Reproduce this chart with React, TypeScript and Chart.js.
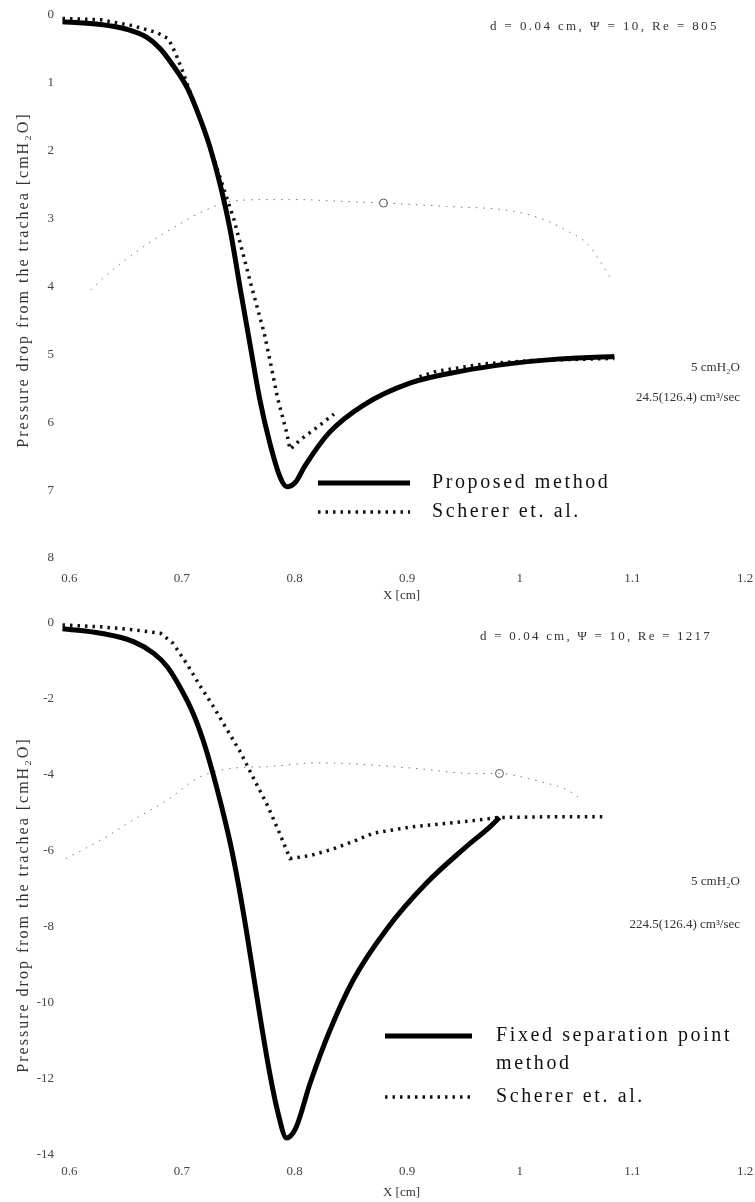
import React, { useEffect, useRef } from "react";
import { Chart, registerables } from "chart.js";

Chart.register(...registerables);

const SERIF = "'Liberation Serif', 'Times New Roman', serif";

// Shared x axis ticks
const xTickValues = [0.6, 0.7, 0.8, 0.9, 1.0, 1.1, 1.2];
const xTickLabels = ["0.6", "0.7", "0.8", "0.9", "1", "1.1", "1.2"];

// ---------- Top panel (Re = 805) ----------
const topYTicks = [0, 1, 2, 3, 4, 5, 6, 7, 8];

const topProposedX = [0.594, 0.628, 0.651, 0.669, 0.681, 0.692, 0.705, 0.716, 0.725, 0.734, 0.743, 0.752, 0.761, 0.769, 0.778, 0.787, 0.793, 0.801, 0.809, 0.831, 0.861, 0.903, 0.947, 0.99, 1.033, 1.084];
const topProposedY = [0.1, 0.14, 0.21, 0.33, 0.5, 0.74, 1.08, 1.52, 1.95, 2.5, 3.18, 4.05, 4.9, 5.65, 6.3, 6.8, 6.95, 6.88, 6.65, 6.15, 5.75, 5.42, 5.25, 5.14, 5.07, 5.03];

const topSchererX = [0.594, 0.628, 0.657, 0.678, 0.688, 0.694, 0.7, 0.707, 0.716, 0.728, 0.737, 0.746, 0.754, 0.761, 0.773, 0.779, 0.785, 0.793, 0.796, 0.805, 0.818, 0.835, 0.87, 0.911, 0.926, 0.968, 1.011, 1.084];
const topSchererY = [0.05, 0.07, 0.16, 0.26, 0.35, 0.55, 0.8, 1.12, 1.53, 2.1, 2.55, 3.0, 3.5, 3.95, 4.68, 5.15, 5.65, 6.15, 6.4, 6.26, 6.1, 5.88, null, 5.33, 5.25, 5.14, 5.09, 5.06];

const topThinX = [0.619, 0.636, 0.657, 0.678, 0.698, 0.719, 0.746, 0.776, 0.805, 0.834, 0.879, 0.935, 0.994, 1.024, 1.042, 1.06, 1.071, 1.08];
const topThinY = [4.05, 3.79, 3.52, 3.28, 3.08, 2.89, 2.74, 2.72, 2.72, 2.74, 2.77, 2.82, 2.89, 3.03, 3.18, 3.37, 3.62, 3.86];

const topMarkerX = [0.879];
const topMarkerY = [2.77];

// ---------- Bottom panel (Re = 1217) ----------
const bottomYTicks = [0, -2, -4, -6, -8, -10, -12, -14];

const bottomFixedX = [0.594, 0.628, 0.657, 0.675, 0.687, 0.698, 0.71, 0.719, 0.727, 0.735, 0.743, 0.75, 0.757, 0.764, 0.771, 0.778, 0.785, 0.793, 0.801, 0.814, 0.831, 0.852, 0.882, 0.917, 0.95, 0.974, 0.982];
const bottomFixedY = [-0.15, -0.27, -0.49, -0.8, -1.15, -1.67, -2.38, -3.1, -3.9, -4.8, -5.8, -6.85, -8.05, -9.35, -10.65, -11.85, -12.85, -13.55, -13.3, -12.1, -10.75, -9.4, -8.05, -6.85, -5.95, -5.35, -5.12];

const bottomSchererX = [0.594, 0.628, 0.657, 0.681, 0.692, 0.705, 0.716, 0.728, 0.74, 0.752, 0.763, 0.776, 0.787, 0.796, 0.814, 0.834, 0.852, 0.87, 0.905, 0.935, 0.965, 0.98, 1.024, 1.074];
const bottomSchererY = [-0.05, -0.1, -0.18, -0.27, -0.53, -1.1, -1.65, -2.2, -2.8, -3.4, -4.05, -4.8, -5.55, -6.2, -6.12, -5.95, -5.75, -5.53, -5.36, -5.27, -5.18, -5.12, -5.1, -5.1];

const bottomThinX = [0.597, 0.628, 0.657, 0.687, 0.716, 0.746, 0.776, 0.82, 0.905, 0.958, 0.982, 1.0, 1.018, 1.042, 1.053];
const bottomThinY = [-6.2, -5.71, -5.18, -4.66, -4.05, -3.82, -3.78, -3.68, -3.82, -3.96, -3.96, -4.04, -4.17, -4.39, -4.61];

const bottomMarkerX = [0.982];
const bottomMarkerY = [-3.96];

// ---------- helpers ----------
function pts(xs: number[], ys: (number | null)[]) {
  return xs.map((x, i) => ({ x, y: ys[i] }));
}

type TextItem = {
  text: string;
  x: number;
  y: number;
  size: number;
  align?: CanvasTextAlign;
  color?: string;
  spacing?: number;
};
type LegendItem = {
  dataset: number;
  x1: number;
  x2: number;
  y: number;
  lines: string[];
  tx: number;
  lineGap: number;
};

function overlayPlugin(texts: TextItem[], legend: LegendItem[], yTitle: TextItem) {
  return {
    id: "overlay",
    afterDraw(chart: any) {
      const ctx: CanvasRenderingContext2D = chart.ctx;
      ctx.save();
      ctx.textBaseline = "middle";
      for (const t of texts) {
        ctx.font = `${t.size}px ${SERIF}`;
        ctx.fillStyle = t.color ?? "#333";
        ctx.textAlign = t.align ?? "left";
        (ctx as any).letterSpacing = `${t.spacing ?? 0}px`;
        ctx.fillText(t.text, t.x, t.y);
      }
      for (const l of legend) {
        const ds = chart.data.datasets[l.dataset];
        ctx.beginPath();
        ctx.setLineDash(ds.borderDash ?? []);
        ctx.lineWidth = ds.borderWidth;
        ctx.strokeStyle = ds.borderColor;
        ctx.lineCap = "butt";
        ctx.moveTo(l.x1, l.y);
        ctx.lineTo(l.x2, l.y);
        ctx.stroke();
        ctx.setLineDash([]);
        ctx.font = `20px ${SERIF}`;
        ctx.fillStyle = "#111";
        ctx.textAlign = "left";
        (ctx as any).letterSpacing = "2.6px";
        l.lines.forEach((s, i) => ctx.fillText(s, l.tx, l.y + i * l.lineGap));
      }
      ctx.translate(yTitle.x, yTitle.y);
      ctx.rotate(-Math.PI / 2);
      ctx.font = `${yTitle.size}px ${SERIF}`;
      ctx.fillStyle = yTitle.color ?? "#333";
      ctx.textAlign = "center";
      (ctx as any).letterSpacing = `${yTitle.spacing ?? 0}px`;
      ctx.fillText(yTitle.text, 0, 0);
      ctx.restore();
    },
  };
}

type PanelSpec = {
  height: number;
  top: number;
  yMin: number;
  yMax: number;
  reverse: boolean;
  yTicks: number[];
  xPad: number;
  datasets: any[];
  texts: TextItem[];
  legend: LegendItem[];
  yTitle: TextItem;
};

function buildConfig(p: PanelSpec): any {
  const tickFont = { family: SERIF, size: 13 };
  return {
    type: "line",
    data: { datasets: p.datasets },
    options: {
      responsive: false,
      animation: false,
      devicePixelRatio: 1,
      events: [],
      layout: { padding: { left: 0, right: 10, top: p.top, bottom: 0 } },
      plugins: { legend: { display: false }, tooltip: { enabled: false } },
      scales: {
        x: {
          type: "linear",
          min: 0.59,
          max: 1.2,
          afterBuildTicks: (s: any) => {
            s.ticks = xTickValues.map((v) => ({ value: v }));
          },
          afterFit: (s: any) => {
            s.height = 47;
            s.paddingLeft = 0;
            s.paddingRight = 0;
          },
          ticks: {
            autoSkip: false,
            maxRotation: 0,
            padding: p.xPad,
            color: "#444",
            font: tickFont,
            callback: (v: number) => {
              const i = xTickValues.findIndex((t) => Math.abs(t - v) < 1e-9);
              return i >= 0 ? xTickLabels[i] : "";
            },
          },
          grid: { display: false, drawTicks: false },
          border: { display: false },
          title: {
            display: true,
            text: "X [cm]",
            color: "#333",
            font: { family: SERIF, size: 13 },
            padding: { top: 0, bottom: 2 },
          },
        },
        y: {
          type: "linear",
          min: p.yMin,
          max: p.yMax,
          reverse: p.reverse,
          afterBuildTicks: (s: any) => {
            s.ticks = p.yTicks.map((v) => ({ value: v }));
          },
          afterFit: (s: any) => {
            s.width = 58;
            s.paddingTop = 0;
            s.paddingBottom = 0;
          },
          ticks: { padding: 4, color: "#444", font: tickFont },
          grid: { display: false, drawTicks: false },
          border: { display: false },
        },
      },
    },
    plugins: [overlayPlugin(p.texts, p.legend, p.yTitle)],
  };
}

function solid(data: any[], label: string) {
  return {
    label,
    data,
    borderColor: "#000",
    borderWidth: 5,
    pointRadius: 0,
    cubicInterpolationMode: "monotone",
    fill: false,
    clip: false,
  };
}
function scherer(data: any[]) {
  return {
    label: "Scherer et. al.",
    data,
    borderColor: "#111",
    borderWidth: 3.5,
    borderDash: [2.5, 5],
    pointRadius: 0,
    tension: 0,
    spanGaps: false,
    fill: false,
    clip: false,
  };
}
function thin(data: any[]) {
  return {
    label: "thin",
    data,
    borderColor: "#777",
    borderWidth: 1,
    borderDash: [1.5, 6],
    pointRadius: 0,
    cubicInterpolationMode: "monotone",
    fill: false,
    clip: false,
  };
}
function marker(data: any[]) {
  return {
    label: "marker",
    data,
    showLine: false,
    pointRadius: 4,
    pointStyle: "circle",
    pointBorderColor: "#555",
    pointBackgroundColor: "#fff",
    pointBorderWidth: 1,
    clip: false,
  };
}

const Y_TITLE = "Pressure drop from the trachea [cmH\u2082O]";

const topSpec: PanelSpec = {
  height: 605,
  top: 15,
  yMin: 0,
  yMax: 8,
  reverse: true,
  yTicks: topYTicks,
  xPad: 13,
  datasets: [
    solid(pts(topProposedX, topProposedY), "Proposed method"),
    scherer(pts(topSchererX, topSchererY)),
    thin(pts(topThinX, topThinY)),
    marker(pts(topMarkerX, topMarkerY)),
  ],
  texts: [
    { text: "d = 0.04 cm, \u03A8 = 10, Re = 805", x: 490, y: 27, size: 13, spacing: 2.4 },
    { text: "5 cmH\u2082O", x: 740, y: 368, size: 13, align: "right" },
    { text: "24.5(126.4) cm\u00B3/sec", x: 740, y: 398, size: 13, align: "right" },
  ],
  legend: [
    { dataset: 0, x1: 318, x2: 410, y: 483, lines: ["Proposed method"], tx: 432, lineGap: 0 },
    { dataset: 1, x1: 318, x2: 410, y: 512, lines: ["Scherer et. al."], tx: 432, lineGap: 0 },
  ],
  yTitle: { text: Y_TITLE, x: 24, y: 280, size: 16, spacing: 2 },
};

const bottomSpec: PanelSpec = {
  height: 597,
  top: 18,
  yMin: -14,
  yMax: 0,
  reverse: false,
  yTicks: bottomYTicks,
  xPad: 9,
  datasets: [
    solid(pts(bottomFixedX, bottomFixedY), "Fixed separation point method"),
    scherer(pts(bottomSchererX, bottomSchererY)),
    thin(pts(bottomThinX, bottomThinY)),
    marker(pts(bottomMarkerX, bottomMarkerY)),
  ],
  texts: [
    { text: "d = 0.04 cm, \u03A8 = 10, Re = 1217", x: 480, y: 637 - 605, size: 13, spacing: 2.2 },
    { text: "5 cmH\u2082O", x: 740, y: 882 - 605, size: 13, align: "right" },
    { text: "224.5(126.4) cm\u00B3/sec", x: 740, y: 925 - 605, size: 13, align: "right" },
  ],
  legend: [
    { dataset: 0, x1: 385, x2: 472, y: 1036 - 605, lines: ["Fixed separation point", "method"], tx: 496, lineGap: 28 },
    { dataset: 1, x1: 385, x2: 472, y: 1097 - 605, lines: ["Scherer et. al."], tx: 496, lineGap: 0 },
  ],
  yTitle: { text: Y_TITLE, x: 24, y: 905 - 605, size: 16, spacing: 2 },
};

function Panel({ spec, top }: { spec: PanelSpec; top: number }) {
  const ref = useRef<HTMLCanvasElement | null>(null);
  useEffect(() => {
    if (!ref.current) return;
    const chart = new Chart(ref.current, buildConfig(spec));
    return () => chart.destroy();
  }, [spec]);
  return (
    <canvas
      ref={ref}
      width={755}
      height={spec.height}
      style={{ position: "absolute", left: 0, top, width: 755, height: spec.height }}
    />
  );
}

export default function App() {
  return (
    <div
      style={{
        position: "absolute",
        left: 0,
        top: 0,
        width: 755,
        height: 1202,
        background: "#fff",
        overflow: "hidden",
      }}
    >
      <Panel spec={topSpec} top={0} />
      <Panel spec={bottomSpec} top={605} />
    </div>
  );
}
